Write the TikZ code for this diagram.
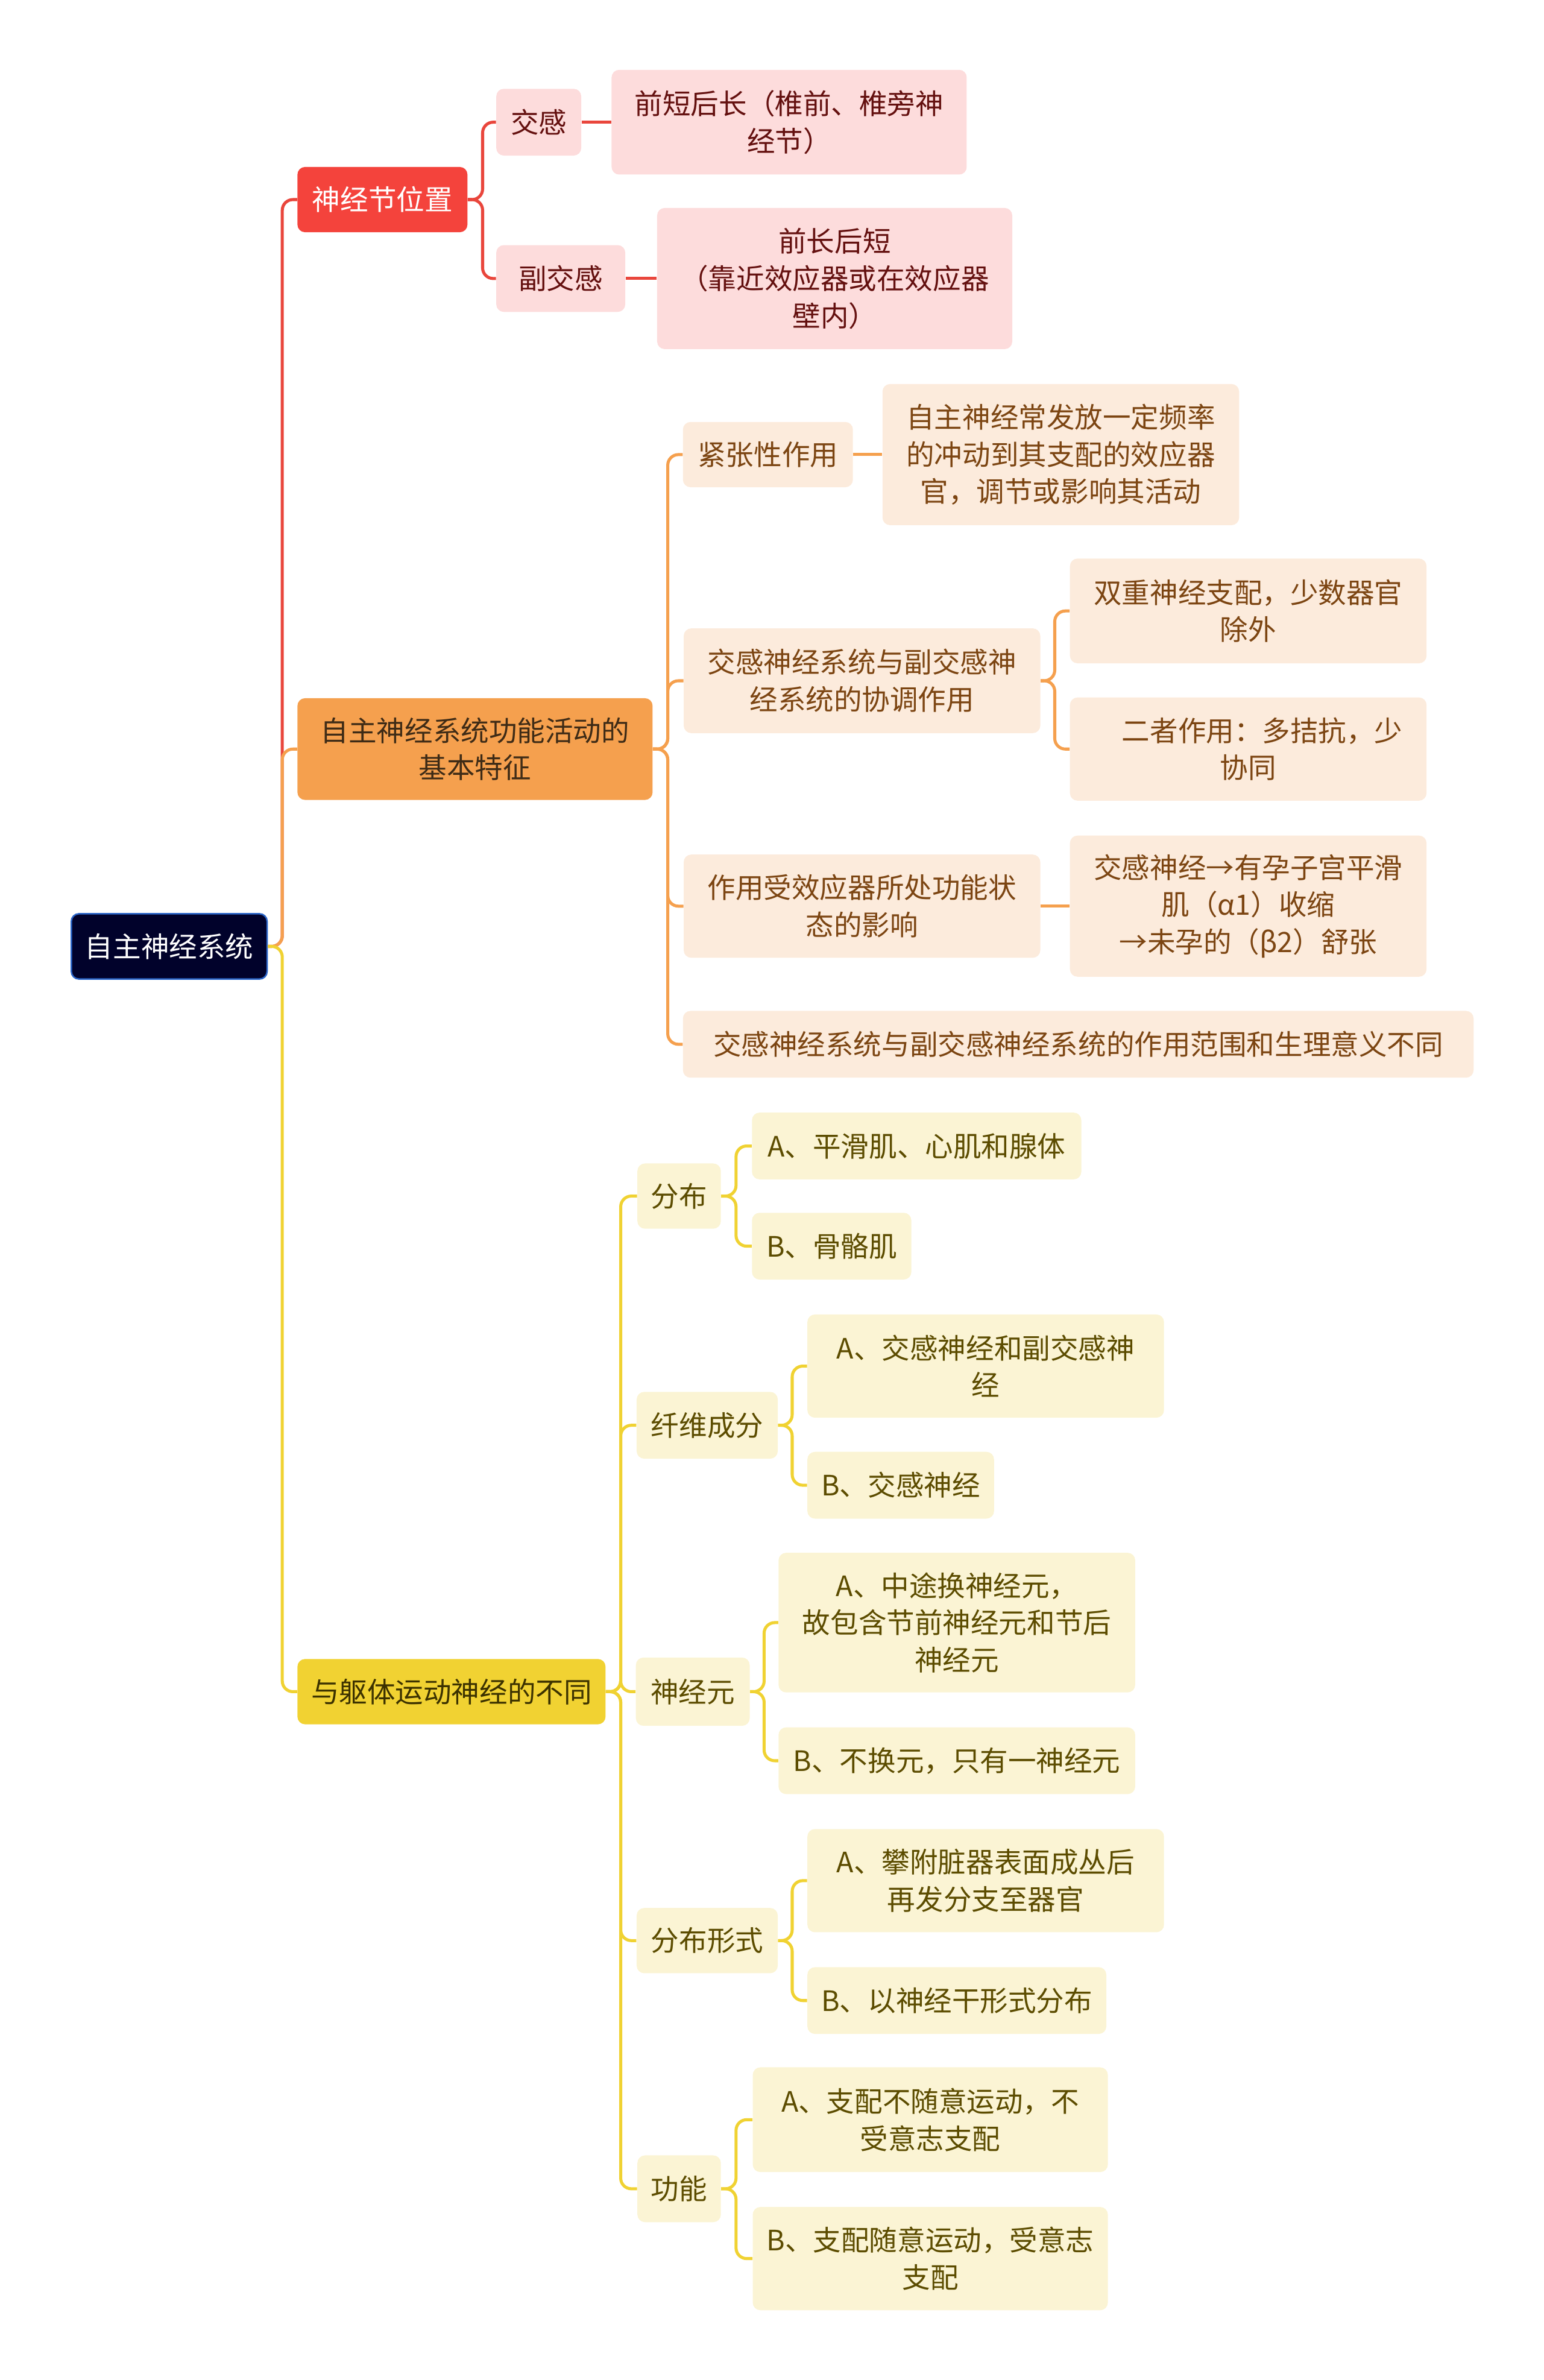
\documentclass[tikz,border=0pt]{standalone}
\usepackage{fontspec}
\setmainfont{Noto Sans CJK SC}
\definecolor{rootfill}{HTML}{01022B}
\definecolor{rootborder}{HTML}{2C66C9}
\definecolor{redmain}{HTML}{F4433C}
\definecolor{redline}{HTML}{E9463C}
\definecolor{redlight}{HTML}{FDDCDC}
\definecolor{redtext}{HTML}{64100F}
\definecolor{orgmain}{HTML}{F5A04E}
\definecolor{orgline}{HTML}{F5A04E}
\definecolor{orglight}{HTML}{FCEBDC}
\definecolor{orgtext}{HTML}{7C4512}
\definecolor{orgmaintext}{HTML}{3E2B16}
\definecolor{ylwmain}{HTML}{F1D232}
\definecolor{ylwline}{HTML}{F0D232}
\definecolor{ylwlight}{HTML}{FBF4D4}
\definecolor{ylwtext}{HTML}{5C4C00}
\definecolor{ylwmaintext}{HTML}{3C3200}
\begin{document}
\begin{tikzpicture}[x=1pt,y=-1pt,
  box/.style={rounded corners=5pt, inner sep=0pt, align=center, font=\fontsize{18.5}{24.5}\selectfont},
  rootbox/.style={box, fill=rootfill, draw=rootborder, line width=1pt, text=white},
  redbox/.style={box, fill=redmain, text=white},
  redsub/.style={box, fill=redlight, text=redtext},
  orgbox/.style={box, fill=orgmain, text=orgmaintext},
  orgsub/.style={box, fill=orglight, text=orgtext},
  ylwbox/.style={box, fill=ylwmain, text=ylwmaintext},
  ylwsub/.style={box, fill=ylwlight, text=ylwtext},
  sz/.style n args={2}{minimum width=#1pt, minimum height=#2pt},
  link/.style={line width=2pt, rounded corners=7pt},
  rl/.style={link, draw=redline},
  ol/.style={link, draw=orgline},
  yl/.style={link, draw=ylwline}]
\useasboundingbox (0,0) rectangle (1017,1568);
% ---------- nodes ----------
\node[rootbox, sz={129}{43}] (root) at (111.5,623.5) {自主神经系统};
\node[redbox, sz={112}{43}] (r1) at (252,131.5) {神经节位置};
\node[orgbox, sz={234}{67}] (o1) at (313,493.5) {自主神经系统功能活动的\\基本特征};
\node[ylwbox, sz={203}{43}] (y1) at (297.5,1114.5) {与躯体运动神经的不同};
% red branch
\node[redsub, sz={56}{44}] (r2a) at (355,80.5) {交感};
\node[redsub, sz={85}{44}] (r2b) at (369.5,183.5) {副交感};
\node[redsub, sz={234}{69}] (r3a) at (520,80.5) {前短后长（椎前、椎旁神\\经节）};
\node[redsub, sz={234}{93}] (r3b) at (550,183.5) {前长后短\\（靠近效应器或在效应器\\壁内）};
% orange branch
\node[orgsub, sz={112}{43}] (o2a) at (506,299.5) {紧张性作用};
\node[orgsub, sz={235}{93}] (o3a) at (699,299.5) {自主神经常发放一定频率\\的冲动到其支配的效应器\\官，调节或影响其活动};
\node[orgsub, sz={235}{69}] (o2b) at (568,448.5) {交感神经系统与副交感神\\经系统的协调作用};
\node[orgsub, sz={235}{69}] (o3b) at (822.5,402.5) {双重神经支配，少数器官\\除外};
\node[orgsub, sz={235}{68}] (o3c) at (822.5,493.5) {\hspace*{1em}二者作用：多拮抗，少\\协同};
\node[orgsub, sz={235}{68}] (o2c) at (568,597) {作用受效应器所处功能状\\态的影响};
\node[orgsub, sz={235}{93}] (o3d) at (822.5,597) {交感神经→有孕子宫平滑\\肌（α1）收缩\\→未孕的（β2）舒张};
\node[orgsub, sz={521}{44}] (o2d) at (710.5,688) {交感神经系统与副交感神经系统的作用范围和生理意义不同};
% yellow branch
\node[ylwsub, sz={55}{43}] (y2a) at (447.5,788) {分布};
\node[ylwsub, sz={217}{44}] (y3a) at (604,755) {A、平滑肌、心肌和腺体};
\node[ylwsub, sz={105}{44}] (y3b) at (548,821) {B、骨骼肌};
\node[ylwsub, sz={93}{44}] (y2b) at (466,939) {纤维成分};
\node[ylwsub, sz={235}{68}] (y3c) at (649.5,900) {A、交感神经和副交感神\\经};
\node[ylwsub, sz={123}{44}] (y3d) at (593.5,978.5) {B、交感神经};
\node[ylwsub, sz={75}{45}] (y2c) at (456.5,1114.5) {神经元};
\node[ylwsub, sz={235}{92}] (y3e) at (630.5,1069) {A、中途换神经元，\\故包含节前神经元和节后\\神经元};
\node[ylwsub, sz={235}{44}] (y3f) at (630.5,1160) {B、不换元，只有一神经元};
\node[ylwsub, sz={93}{43}] (y2d) at (466,1278.5) {分布形式};
\node[ylwsub, sz={235}{68}] (y3g) at (649.5,1239) {A、攀附脏器表面成丛后\\再发分支至器官};
\node[ylwsub, sz={197}{44}] (y3h) at (630.5,1318) {B、以神经干形式分布};
\node[ylwsub, sz={55}{44}] (y2e) at (447.5,1442) {功能};
\node[ylwsub, sz={234}{69}] (y3i) at (613,1396.5) {A、支配不随意运动，不\\受意志支配};
\node[ylwsub, sz={234}{68}] (y3j) at (613,1488) {B、支配随意运动，受意志\\支配};
% ---------- trunk points ----------
\coordinate (t0) at (186,623.5);
\coordinate (tr) at (318,131.5);
\coordinate (to) at (440,493.5);
\coordinate (tob) at (695,448.5);
\coordinate (ty) at (409,1114.5);
\coordinate (tya) at (485,788);
\coordinate (tyb) at (522,939);
\coordinate (tyc) at (503.5,1114.5);
\coordinate (tyd) at (522,1278.5);
\coordinate (tye) at (485,1442);
% ---------- connectors ----------
\draw[rl] (root.east) -- (t0) |- (r1.west);
\draw[ol] (root.east) -- (t0) |- (o1.west);
\draw[yl] (root.east) -- (t0) |- (y1.west);
% red
\draw[rl] (r1.east) -- (tr) |- (r2a.west);
\draw[rl] (r1.east) -- (tr) |- (r2b.west);
\draw[rl] (r2a.east) -- (r3a.west);
\draw[rl] (r2b.east) -- (r3b.west);
% orange
\draw[ol] (o1.east) -- (to) |- (o2a.west);
\draw[ol] (o1.east) -- (to) |- (o2b.west);
\draw[ol] (o1.east) -- (to) |- (o2c.west);
\draw[ol] (o1.east) -- (to) |- (o2d.west);
\draw[ol] (o2a.east) -- (o3a.west);
\draw[ol] (o2b.east) -- (tob) |- (o3b.west);
\draw[ol] (o2b.east) -- (tob) |- (o3c.west);
\draw[ol] (o2c.east) -- (o3d.west);
% yellow
\draw[yl] (y1.east) -- (ty) |- (y2a.west);
\draw[yl] (y1.east) -- (ty) |- (y2b.west);
\draw[yl] (y1.east) -- (ty) |- (y2c.west);
\draw[yl] (y1.east) -- (ty) |- (y2d.west);
\draw[yl] (y1.east) -- (ty) |- (y2e.west);
\draw[yl] (y2a.east) -- (tya) |- (y3a.west);
\draw[yl] (y2a.east) -- (tya) |- (y3b.west);
\draw[yl] (y2b.east) -- (tyb) |- (y3c.west);
\draw[yl] (y2b.east) -- (tyb) |- (y3d.west);
\draw[yl] (y2c.east) -- (tyc) |- (y3e.west);
\draw[yl] (y2c.east) -- (tyc) |- (y3f.west);
\draw[yl] (y2d.east) -- (tyd) |- (y3g.west);
\draw[yl] (y2d.east) -- (tyd) |- (y3h.west);
\draw[yl] (y2e.east) -- (tye) |- (y3i.west);
\draw[yl] (y2e.east) -- (tye) |- (y3j.west);
\end{tikzpicture}
\end{document}
